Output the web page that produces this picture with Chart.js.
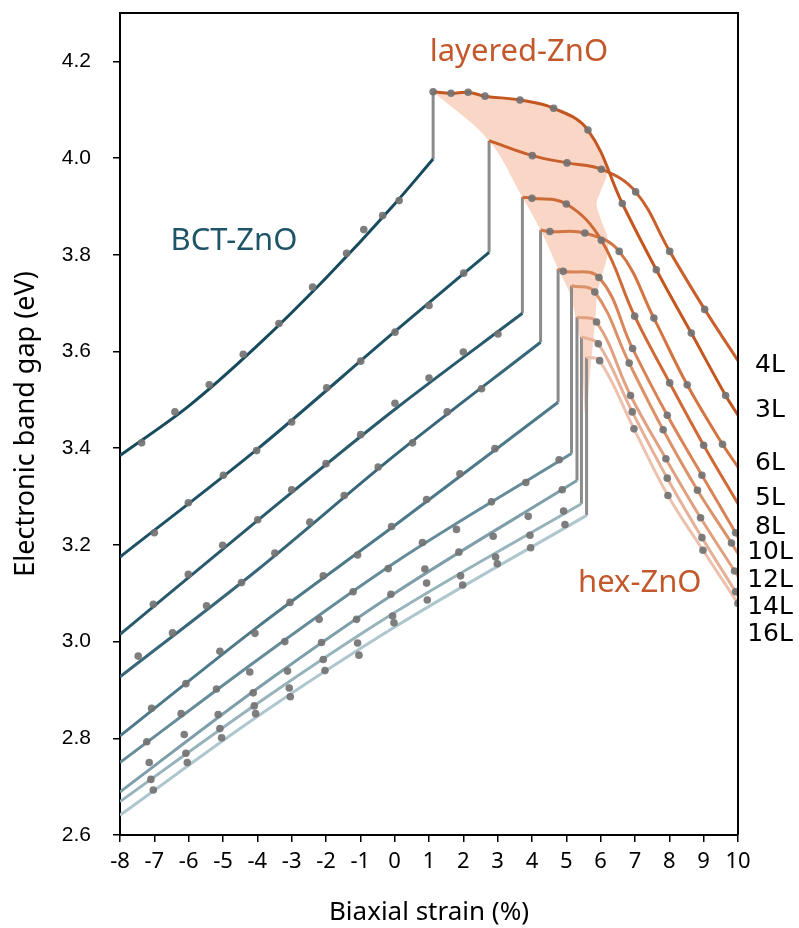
<!DOCTYPE html>
<html>
<head>
<meta charset="utf-8">
<script src="https://cdn.jsdelivr.net/npm/chart.js@4.4.1/dist/chart.umd.min.js"></script>
<style>
  html, body { margin: 0; padding: 0; background: #fff; }
</style>
</head>
<body>
<canvas id="chart" width="799" height="928"></canvas>
<script>
const layers = ['3L', '4L', '5L', '6L', '8L', '10L', '12L', '14L', '16L'];
const xTicks = [-8, -7, -6, -5, -4, -3, -2, -1, 0, 1, 2, 3, 4, 5, 6, 7, 8, 9, 10];
const yTicks = [2.6, 2.8, 3.0, 3.2, 3.4, 3.6, 3.8, 4.0, 4.2];

/* BCT-ZnO fitted lines, one per layer count */
const bctFit = [
    [[-8, 3.385], [-6, 3.487], [-4, 3.612], [-2, 3.752], [0, 3.905], [1.12, 3.998]],
    [[-8, 3.175], [-4, 3.398], [0, 3.641], [2.75, 3.805]],
    [[-8, 3.015], [-4, 3.25], [0, 3.48], [3.72, 3.679]],
    [[-8, 2.927], [-4, 3.148], [0, 3.385], [4.25, 3.619]],
    [[-8, 2.805], [-4, 3.03], [0, 3.24], [4.76, 3.495]],
    [[-8, 2.75], [-4, 2.962], [0, 3.163], [5.15, 3.389]],
    [[-8, 2.689], [-4, 2.903], [0, 3.10], [5.31, 3.333]],
    [[-8, 2.669], [-4, 2.872], [0, 3.06], [5.44, 3.285]],
    [[-8, 2.641], [-4, 2.845], [0, 3.03], [5.59, 3.261]]
];

/* BCT-ZnO computed points */
const bctDots = [
    [[-7.37, 3.411], [-6.40, 3.475], [-5.40, 3.531], [-4.41, 3.594], [-3.37, 3.658], [-2.39, 3.733], [-1.40, 3.803], [-0.90, 3.852], [-0.35, 3.881], [0.13, 3.912]],
    [[-7.0, 3.225], [-6.01, 3.287], [-4.99, 3.344], [-4.02, 3.395], [-3.0, 3.454], [-1.98, 3.525], [-0.99, 3.58], [0.01, 3.64], [1.0, 3.695], [2.01, 3.762]],
    [[-7.03, 3.077], [-6.01, 3.139], [-5.01, 3.199], [-3.99, 3.252], [-3.0, 3.314], [-2.0, 3.368], [-0.99, 3.428], [0.01, 3.493], [1.0, 3.545], [2.0, 3.599], [3.01, 3.636]],
    [[-7.47, 2.97], [-6.47, 3.018], [-5.48, 3.074], [-4.46, 3.122], [-3.49, 3.183], [-2.47, 3.247], [-1.47, 3.302], [-0.48, 3.361], [0.52, 3.411], [1.53, 3.475], [2.53, 3.523]],
    [[-7.08, 2.862], [-6.08, 2.913], [-5.09, 2.98], [-4.07, 3.017], [-3.05, 3.081], [-2.08, 3.136], [-1.08, 3.179], [-0.09, 3.238], [0.93, 3.294], [1.90, 3.347], [2.92, 3.399]],
    [[-7.22, 2.793], [-6.22, 2.851], [-5.19, 2.902], [-4.22, 2.937], [-3.20, 3.0], [-2.20, 3.046], [-1.21, 3.103], [-0.19, 3.151], [0.81, 3.205], [1.80, 3.232], [2.82, 3.289], [3.82, 3.329], [4.79, 3.376]],
    [[-7.15, 2.75], [-6.13, 2.808], [-5.14, 2.849], [-4.12, 2.894], [-3.12, 2.939], [-2.13, 2.998], [-1.11, 3.046], [-0.11, 3.098], [0.88, 3.15], [1.87, 3.185], [2.87, 3.218], [3.89, 3.259], [4.88, 3.314]],
    [[-7.10, 2.715], [-6.08, 2.769], [-5.09, 2.82], [-4.09, 2.867], [-3.07, 2.904], [-2.08, 2.963], [-1.08, 2.997], [-0.06, 3.053], [0.93, 3.121], [1.92, 3.136], [2.94, 3.175], [3.94, 3.22], [4.92, 3.27]],
    [[-7.03, 2.693], [-6.04, 2.75], [-5.04, 2.801], [-4.05, 2.851], [-3.04, 2.886], [-2.03, 2.94], [-1.04, 2.972], [-0.02, 3.039], [0.95, 3.086], [1.98, 3.117], [2.99, 3.161], [3.96, 3.194], [4.96, 3.242]]
];

/* layered-ZnO / hex-ZnO curves, from the transition strain to 10 % */
const layCurve = [
    [[1.12, 4.137], [1.64, 4.134], [2.14, 4.136], [2.63, 4.128], [3.65, 4.12], [4.63, 4.103], [5.63, 4.058], [6.63, 3.906], [7.62, 3.769], [8.64, 3.638], [9.64, 3.509], [10, 3.468]],
    [[2.75, 4.036], [4.01, 4.005], [5.02, 3.99], [6.02, 3.977], [7.02, 3.93], [8.01, 3.807], [9.03, 3.687], [10, 3.581]],
    [[3.72, 3.919], [4.0, 3.917], [5.0, 3.905], [6.02, 3.83], [6.99, 3.673], [8.01, 3.535], [9.0, 3.406], [10, 3.285]],
    [[4.25, 3.851], [4.52, 3.848], [5.54, 3.845], [6.54, 3.807], [7.55, 3.669], [8.52, 3.531], [9.55, 3.408], [10, 3.361]],
    [[4.76, 3.771], [4.91, 3.766], [5.95, 3.753], [6.93, 3.606], [7.94, 3.468], [8.95, 3.344], [9.93, 3.225], [10, 3.216]],
    [[5.15, 3.736], [5.83, 3.723], [6.83, 3.576], [7.82, 3.438], [8.82, 3.313], [9.81, 3.204], [10, 3.182]],
    [[5.31, 3.671], [5.88, 3.661], [6.87, 3.509], [7.90, 3.378], [8.91, 3.256], [9.90, 3.146], [10, 3.135]],
    [[5.44, 3.63], [5.93, 3.616], [6.92, 3.475], [7.94, 3.338], [8.95, 3.215], [9.93, 3.103], [10, 3.095]],
    [[5.59, 3.588], [5.97, 3.581], [6.97, 3.44], [7.96, 3.302], [8.98, 3.189], [10, 3.079]]
];

/* computed points on the layered / hex curves */
const layDots = [
    [[1.12, 4.137], [1.64, 4.134], [2.14, 4.136], [2.63, 4.128], [3.65, 4.12], [4.63, 4.103], [5.63, 4.058], [6.63, 3.906], [7.62, 3.769], [8.64, 3.638], [9.64, 3.509]],
    [[4.01, 4.005], [5.02, 3.99], [6.02, 3.977], [7.02, 3.93], [8.01, 3.807], [9.03, 3.687]],
    [[4.0, 3.917], [5.0, 3.905], [6.02, 3.83], [6.99, 3.673], [8.01, 3.535], [9.0, 3.406]],
    [[4.52, 3.848], [5.54, 3.845], [6.54, 3.807], [7.55, 3.669], [8.52, 3.531], [9.55, 3.408]],
    [[4.91, 3.766], [5.95, 3.753], [6.93, 3.606], [7.94, 3.468], [8.95, 3.344], [9.93, 3.225]],
    [[5.83, 3.723], [6.83, 3.576], [7.82, 3.438], [8.82, 3.313], [9.81, 3.204]],
    [[5.88, 3.661], [6.87, 3.509], [7.90, 3.378], [8.91, 3.256], [9.90, 3.146]],
    [[5.93, 3.616], [6.92, 3.475], [7.94, 3.338], [8.95, 3.215], [9.93, 3.103]],
    [[5.97, 3.581], [6.97, 3.44], [7.96, 3.302], [8.98, 3.189], [10, 3.079]]
];

/* outline of the shaded layered-ZnO region */
const shadeX = [1.12, 1.64, 2.14, 2.63, 3.65, 4.63, 5.63, 6.17, 5.97, 5.88, 6.02, 6.2, 6.2, 6.05, 5.9, 5.85, 5.78, 5.7, 5.62, 5.55, 5.5, 5.45, 5.3, 5.1, 4.8, 4.25, 3.72, 2.75, 1.12];
const shadeY = [4.137, 4.134, 4.136, 4.128, 4.12, 4.103, 4.058, 3.975, 3.926, 3.905, 3.871, 3.835, 3.80, 3.76, 3.72, 3.67, 3.62, 3.56, 3.50, 3.47, 3.52, 3.60, 3.66, 3.72, 3.765, 3.851, 3.919, 4.036, 4.137];

/* where the layer names sit on the right edge */
const labelY = [3.478, 3.571, 3.296, 3.369, 3.236, 3.185, 3.127, 3.071, 3.015];

const notes = [
    { text: 'layered-ZnO', x: 3.62, y: 4.218, color: '#C2582B' },
    { text: 'BCT-ZnO', x: -4.68, y: 3.829, color: '#1E5468' },
    { text: 'hex-ZnO', x: 7.14, y: 3.121, color: '#C2582B' }
];

var bctColors = ['#174A5C', '#1E5164', '#285A6C', '#386779', '#4D7988', '#668C99', '#7E9FAA', '#97B3BC', '#AEC6CD'];
var layColors = ['#C4561F', '#C95F2A', '#CF6A36', '#D37443', '#D88457', '#DC9269', '#E1A181', '#E6B198', '#ECC2AE'];
var dotColor = 'rgba(115,115,115,0.92)';

const toPts = arr => arr.map(p => ({ x: p[0], y: p[1] }));

const datasets = [];

/* shaded area first so it sits behind everything */
datasets.push({
    data: shadeX.map((x, i) => ({ x: x, y: shadeY[i] })),
    showLine: true,
    fill: 'shape',
    backgroundColor: 'rgba(247,200,178,0.75)',
    borderWidth: 0,
    borderColor: 'rgba(0,0,0,0)',
    pointRadius: 0,
    tension: 0.35,
    order: 4
});

layers.forEach(function (name, i) {
    const bEnd = bctFit[i][bctFit[i].length - 1];
    const lStart = layCurve[i][0];
    // jump from BCT to layered phase
    datasets.push({
        data: [{ x: bEnd[0], y: bEnd[1] }, { x: bEnd[0], y: lStart[1] }],
        showLine: true,
        borderColor: '#8C8C8C',
        borderWidth: 3,
        pointRadius: 0,
        order: 3
    });
    datasets.push({
        data: toPts(bctFit[i]),
        showLine: true,
        borderColor: bctColors[i],
        borderWidth: 3,
        pointRadius: 0,
        cubicInterpolationMode: 'monotone',
        order: 2
    });
    datasets.push({
        data: toPts(layCurve[i]),
        showLine: true,
        borderColor: layColors[i],
        borderWidth: 3,
        pointRadius: 0,
        tension: 0.4,
        order: 2
    });
    datasets.push({
        data: toPts(bctDots[i]).concat(toPts(layDots[i])),
        showLine: false,
        backgroundColor: dotColor,
        borderWidth: 0,
        pointRadius: 3.8,
        order: 1
    });
});

const extras = {
    id: 'extras',
    afterDatasetsDraw(chart) {
        const ctx = chart.ctx;
        const a = chart.chartArea;
        const xs = chart.scales.x;
        const ys = chart.scales.y;
        ctx.save();
        // top and right frame
        ctx.strokeStyle = '#000';
        ctx.lineWidth = 2;
        ctx.beginPath();
        ctx.moveTo(a.left, a.top);
        ctx.lineTo(a.right, a.top);
        ctx.lineTo(a.right, a.bottom);
        ctx.stroke();

        ctx.textAlign = 'center';
        ctx.textBaseline = 'middle';
        ctx.font = '31px "Noto Sans"';
        notes.forEach(function (n) {
            ctx.fillStyle = n.color;
            ctx.fillText(n.text, xs.getPixelForValue(n.x), ys.getPixelForValue(n.y));
        });

        ctx.fillStyle = '#000';
        ctx.font = '25px "DejaVu Sans"';
        layers.forEach(function (name, i) {
            ctx.fillText(name, a.right + 32, ys.getPixelForValue(labelY[i]));
        });
        ctx.restore();
    }
};

new Chart(document.getElementById('chart'), {
    type: 'scatter',
    data: { datasets: datasets },
    options: {
        responsive: false,
        animation: false,
        devicePixelRatio: 1,
        layout: { padding: { left: 0, right: 61, top: 13, bottom: 0 } },
        plugins: {
            legend: { display: false },
            tooltip: { enabled: false }
        },
        scales: {
            x: {
                type: 'linear',
                min: -8,
                max: 10,
                afterBuildTicks: s => { s.ticks = xTicks.map(v => ({ value: v })); },
                afterFit: s => {
                    s.height = 93;
                    s.paddingLeft = 0;
                    s.paddingRight = 0;
                },
                ticks: {
                    color: '#000',
                    padding: 7,
                    maxRotation: 0,
                    font: { family: 'Noto Sans', size: 22 },
                    callback: v => String(v)
                },
                grid: { drawOnChartArea: false, tickLength: 7, color: '#000', lineWidth: 1.5 },
                border: { display: true, color: '#000', width: 2 },
                title: {
                    display: true,
                    text: 'Biaxial strain (%)',
                    color: '#000',
                    font: { family: 'Noto Sans', size: 26 },
                    padding: { top: 2, bottom: 0 }
                }
            },
            y: {
                type: 'linear',
                min: 2.6,
                max: 4.3,
                afterBuildTicks: s => { s.ticks = yTicks.map(v => ({ value: v })); },
                afterFit: s => {
                    s.width = 120;
                    s.paddingTop = 0;
                    s.paddingBottom = 0;
                },
                ticks: {
                    color: '#000',
                    padding: 22,
                    font: { family: 'Liberation Sans', size: 21 },
                    callback: v => Number(v).toFixed(1)
                },
                grid: { drawOnChartArea: false, tickLength: 7, color: '#000', lineWidth: 1.5 },
                border: { display: true, color: '#000', width: 2 },
                title: {
                    display: true,
                    text: 'Electronic band gap (eV)',
                    color: '#000',
                    font: { family: 'Noto Sans', size: 27 },
                    padding: { top: 10, bottom: 0 }
                }
            }
        }
    },
    plugins: [extras]
});
</script>
</body>
</html>
